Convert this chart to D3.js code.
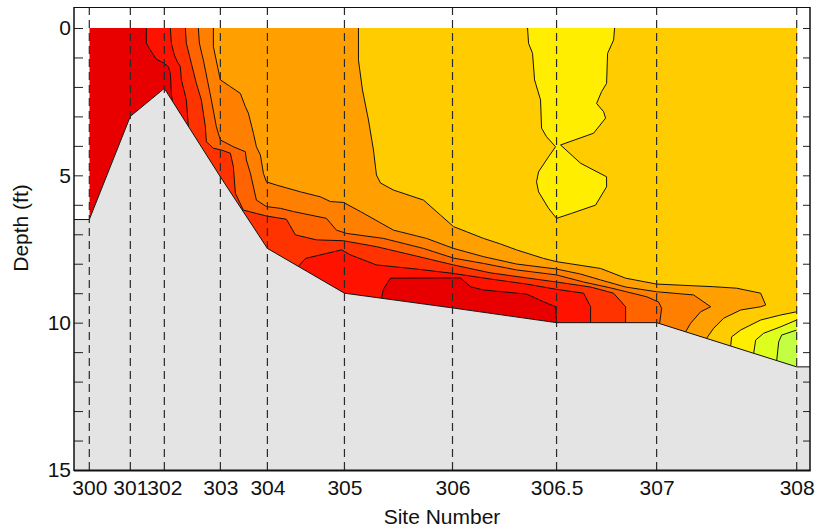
<!DOCTYPE html>
<html><head><meta charset="utf-8">
<script src="https://cdn.jsdelivr.net/npm/d3@7"></script>
<style>
body{margin:0;background:#fff;}
svg{display:block;}
text{font-family:"Liberation Sans",Arial,sans-serif;fill:#111;}
</style>
</head><body>
<svg id="chart" width="821" height="530"></svg>
<script>
// ---------------- data ----------------
const sites = ["300","301","302","303","304","305","306","306.5","307","308"];
const siteDist = [0, 41, 75, 131, 178, 255, 363, 467, 567, 707];      // distance along transect
const bottomDepth = [6.5, 3.0, 2.05, 5.05, 7.48, 9.0, 9.5, 10.0, 10.0, 11.5]; // ft
const depthTicks = [0,1,2,3,4,5,6,7,8,9,10,11,12,13,14,15];
const depthLabels = [0,5,10,15];

// contour lines: [distance, depth]
const c1Left = [[57,0],[57,0.52],[61,0.75],[67,1.06],[74,1.18],[79,1.31],[81,1.54],[82,2.22],[83,2.48]];
const c1Bottom = [[292,9.17],[294,8.86],[301,8.49],[364,8.48],[371,8.48],[381,8.78],[394,8.89],[437,9.03],[454,9.29],[466,9.46],[467,10.0]];
const c2Left = [[81,0],[82,0.52],[85,0.92],[88,1.15],[91,1.31],[92,1.76],[97,2.44],[99,3.34]];
const c2Bottom = [[209,8.09],[216,7.82],[252,7.53],[261,7.70],[287,8.04],[327,8.18],[364,8.33],[401,8.52],[437,8.69],[467,8.87],[494,9.0],[501,9.46],[501,10.0]];
const c3 = [[96,0],[97,0.52],[102,1.20],[107,1.88],[112,2.44],[116,3.35],[117,3.86],[124,4.08],[132,4.14],[141,4.25],[144,4.71],[146,5.61],[154,6.18],[177,6.38],[197,6.49],[206,7.02],[227,7.19],[254,7.22],[287,7.42],[327,7.74],[364,8.04],[401,8.31],[437,8.48],[467,8.62],[501,8.79],[524,9.0],[536,9.46],[536,10.0]];
const c4 = [[109,0],[110,0.51],[112,0.81],[114,1.09],[122,2.44],[127,3.35],[131,3.80],[144,4.03],[156,4.20],[157,4.48],[161,4.93],[167,5.84],[177,6.06],[191,6.12],[204,6.23],[237,6.46],[247,6.86],[257,6.97],[294,7.14],[334,7.48],[364,7.81],[394,7.99],[427,8.21],[467,8.38],[494,8.62],[521,8.82],[557,9.12],[569,9.30],[572,9.51],[570,10.03]];
const c5 = [[124,0],[124,0.63],[131,1.76],[141,1.99],[151,2.22],[156,2.67],[159,2.89],[164,3.57],[167,4.03],[171,4.31],[174,4.93],[177,5.22],[187,5.33],[211,5.56],[231,5.73],[241,5.89],[254,5.92],[271,6.23],[304,6.86],[337,7.14],[364,7.48],[394,7.76],[427,8.01],[467,8.18],[491,8.35],[511,8.55],[536,8.79],[567,8.95],[604,9.06],[621,9.46],[611,9.63],[601,10.02],[596,10.31]];
const c6 = [[269,0],[269,1.09],[273,2.10],[279,3.12],[284,4.14],[287,4.99],[291,5.26],[304,5.50],[334,5.84],[351,6.35],[364,6.74],[394,7.14],[411,7.33],[427,7.53],[454,7.82],[467,7.93],[511,8.16],[536,8.49],[567,8.69],[624,8.78],[647,8.83],[671,9.0],[676,9.40],[671,9.46],[651,9.57],[634,9.85],[624,10.19],[617,10.53]];
const c7Patch = [[438,0],[439,0.52],[443,0.86],[445,1.76],[451,2.44],[452,3.40],[457,3.69],[466,4.03],[459,4.37],[449,4.88],[447,5.22],[449,5.56],[459,6.12],[467,6.46],[482,6.29],[506,6.01],[517,5.39],[517,5.05],[491,4.59],[471,3.97],[504,3.57],[516,3.06],[514,2.84],[507,2.56],[512,2.16],[517,1.88],[518,0.86],[524,0.41],[525,0]];
const c7Corner = [[641,10.79],[642,10.48],[651,10.25],[671,9.91],[691,9.74],[707,9.63]];
const c8Corner = [[664,11.04],[666,10.59],[674,10.36],[691,10.14],[707,9.91]];
const c9Corner = [[687,11.29],[689,10.65],[692,10.42],[707,10.25]];

// band fills (lowest to highest level)
const bandColors = ["#E80000","#FF1200","#FF3300","#FF6400","#FF8000","#FFA000","#FFCC00","#FFEE00","#DEFF1E","#C2FF42"];

// ---------------- drawing ----------------
const frame = {left:74, right:810, top:7, bottom:470};
const x = d3.scaleLinear().domain([0, 707]).range([89.3, 796.7]);
const y = d3.scaleLinear().domain([0, 15]).range([28, 470]);
const ABOVE = -1, BELOW = 16, FAR = 730;
const line = d3.line().x(d => x(d[0])).y(d => y(d[1]));

const svg = d3.select("#chart");
const bottomPts = siteDist.map((d, i) => [d, bottomDepth[i]]);
const water = [[0, 0], [707, 0], ...bottomPts.slice().reverse()];

svg.append("defs").append("clipPath").attr("id", "waterClip")
  .append("path").attr("d", line(water) + "Z");

function bandPath(pieces) {
  const pts = [];
  pieces.forEach((p, i) => {
    const s = p[0], e = p[p.length - 1];
    if (i === 0) pts.push([s[0], s[1] === 0 ? ABOVE : BELOW]);
    else pts.push([s[0], BELOW]);
    pts.push(...p);
    if (e[1] === 0) pts.push([e[0], ABOVE]);
    else if (e[0] >= 707) pts.push([FAR, e[1]]);
    else pts.push([e[0], BELOW]);
  });
  const first = pieces[0][0];
  const last = pieces[pieces.length - 1];
  const e = last[last.length - 1];
  if (e[1] !== 0) {
    pts.push([FAR, BELOW]);
    if (first[1] === 0) pts.push([FAR, ABOVE]);
  }
  return line(pts) + "Z";
}

const bands = [
  {level: 1, shapes: [[c1Left, c1Bottom]]},
  {level: 2, shapes: [[c2Left, c2Bottom]]},
  {level: 3, shapes: [[c3]]},
  {level: 4, shapes: [[c4]]},
  {level: 5, shapes: [[c5]]},
  {level: 6, shapes: [[c6]]},
  {level: 7, shapes: [[c7Patch], [c7Corner]]},
  {level: 8, shapes: [[c8Corner]]},
  {level: 9, shapes: [[c9Corner]]}
];

const gw = svg.append("g").attr("clip-path", "url(#waterClip)");
gw.append("path").attr("d", line(water) + "Z").attr("fill", bandColors[0]);
bands.forEach(b => {
  b.shapes.forEach(sh => {
    gw.append("path").attr("d", bandPath(sh)).attr("fill", bandColors[b.level]);
  });
});
const contourLines = [c1Left, c1Bottom, c2Left, c2Bottom, c3, c4, c5, c6, c7Patch, c7Corner, c8Corner, c9Corner];
gw.selectAll("path.cl").data(contourLines).join("path").attr("class", "cl")
  .attr("d", d => line(d)).attr("fill", "none").attr("stroke", "#111").attr("stroke-width", 1);

// ground
const xl = x.invert(frame.left), xr = x.invert(frame.right);
const groundTop = [[xl, bottomDepth[0]], ...bottomPts, [xr, bottomDepth[bottomDepth.length - 1]]];
svg.append("path").attr("d", line([...groundTop, [xr, 15], [xl, 15]]) + "Z").attr("fill", "#E4E4E4");
svg.append("path").attr("d", line(groundTop)).attr("fill", "none").attr("stroke", "#111").attr("stroke-width", 1);

// site dashed lines
svg.append("g").selectAll("line").data(siteDist).join("line")
  .attr("x1", d => x(d)).attr("x2", d => x(d))
  .attr("y1", frame.top).attr("y2", frame.bottom)
  .attr("stroke", "#2a2a2a").attr("stroke-width", 1.2).attr("stroke-dasharray", "8,5");

// axes
const yl = svg.append("g").attr("transform", `translate(${frame.left},0)`)
  .call(d3.axisLeft(y).tickValues(depthTicks).tickSize(-9).tickSizeOuter(0).tickPadding(3)
    .tickFormat(d => depthLabels.includes(d) ? d : ""));
yl.select(".domain").remove();
yl.selectAll("text").style("font-size", "21px").style("font-family", "'Liberation Sans',Arial,sans-serif").attr("fill", "#111");
yl.selectAll("line").attr("stroke", "#222");

const yr = svg.append("g").attr("transform", `translate(${frame.right},0)`)
  .call(d3.axisRight(y).tickValues(depthTicks).tickSize(-7).tickSizeOuter(0).tickFormat(""));
yr.select(".domain").remove();
yr.selectAll("line").attr("stroke", "#222");

const xa = svg.append("g").attr("transform", `translate(0,${frame.bottom})`)
  .call(d3.axisBottom(x).tickValues(siteDist).tickSize(0).tickPadding(10)
    .tickFormat((d, i) => sites[i]));
xa.select(".domain").remove();
xa.selectAll("text").style("font-size", "21px").style("font-family", "'Liberation Sans',Arial,sans-serif").attr("fill", "#111");

// frame
svg.append("line").attr("x1", frame.left).attr("x2", frame.right).attr("y1", frame.top + 0.5).attr("y2", frame.top + 0.5).attr("stroke", "#111").attr("stroke-width", 1);
svg.append("line").attr("x1", frame.right).attr("x2", frame.right).attr("y1", frame.top).attr("y2", frame.bottom).attr("stroke", "#111").attr("stroke-width", 1.5);
svg.append("line").attr("x1", frame.left).attr("x2", frame.left).attr("y1", frame.top).attr("y2", frame.bottom + 1).attr("stroke", "#111").attr("stroke-width", 1.5);
svg.append("line").attr("x1", frame.left).attr("x2", frame.right + 0.75).attr("y1", frame.bottom + 0.5).attr("y2", frame.bottom + 0.5).attr("stroke", "#111").attr("stroke-width", 2);

// titles
svg.append("text").attr("transform", "translate(28,228) rotate(-90)").attr("text-anchor", "middle")
  .style("font-size", "21px").text("Depth (ft)");
svg.append("text").attr("x", (frame.left + frame.right) / 2).attr("y", 524).attr("text-anchor", "middle")
  .style("font-size", "21px").text("Site Number");
</script>
</body></html>
